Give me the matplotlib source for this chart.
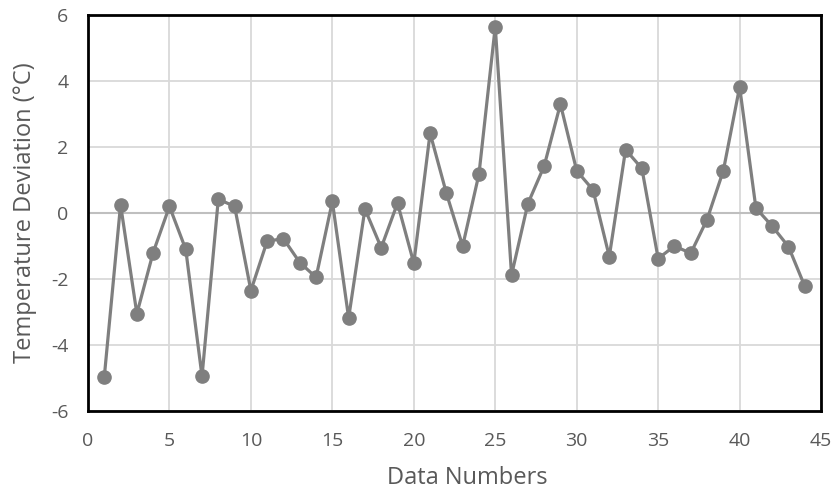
import numpy as np
import matplotlib.pyplot as plt

# temperature deviation per data number
data_numbers = list(range(1, 45))
deviation = [-4.97, 0.25, -3.05, -1.2, 0.2, -1.1, -4.95, 0.42, 0.2, -2.35,
             -0.85, -0.78, -1.5, -1.95, 0.35, -3.18, 0.12, -1.05, 0.3, -1.52,
             2.42, 0.6, -1.0, 1.18, 5.65, -1.88, 0.28, 1.42, 3.3, 1.28,
             0.7, -1.32, 1.92, 1.35, -1.38, -1.0, -1.22, -0.2, 1.28, 3.82,
             0.15, -0.4, -1.02, -2.22]

x_ticks = np.arange(0, 46, 5)
y_ticks = np.arange(-6, 7, 2)

plt.rcParams['font.family'] = ['Open Sans', 'DejaVu Sans']
plt.rcParams['axes.unicode_minus'] = False

fig = plt.figure(figsize=(8.34, 4.93), dpi=100)
ax = fig.add_axes([0.1055, 0.1663, 0.879, 0.8033])

ax.plot(data_numbers, deviation, color='#7f7f7f', lw=2.3, marker='o',
        markersize=9.5, markerfacecolor='#7f7f7f', markeredgecolor='#7f7f7f',
        zorder=3)

ax.set_xlim(0, 45)
ax.set_ylim(-6, 6)
ax.set_xticks(x_ticks)
ax.set_yticks(y_ticks)
ax.grid(True, color='#d9d9d9', lw=1.3)
ax.axhline(0, color='#bfbfbf', lw=1.5, zorder=1)
ax.set_axisbelow(True)

for s in ax.spines.values():
    s.set_color('black')
    s.set_linewidth(2)

ax.tick_params(length=0, labelsize=14, labelcolor='#595959')
ax.tick_params(axis='x', pad=15)
ax.tick_params(axis='y', pad=14)
ax.set_xlabel('Data Numbers', fontsize=17, color='#595959')
ax.set_ylabel('Temperature Deviation (°C)', fontsize=17, color='#595959',
              labelpad=10)
ax.xaxis.set_label_coords(0.517, -0.14)

fig.savefig('out.png', dpi=100)
